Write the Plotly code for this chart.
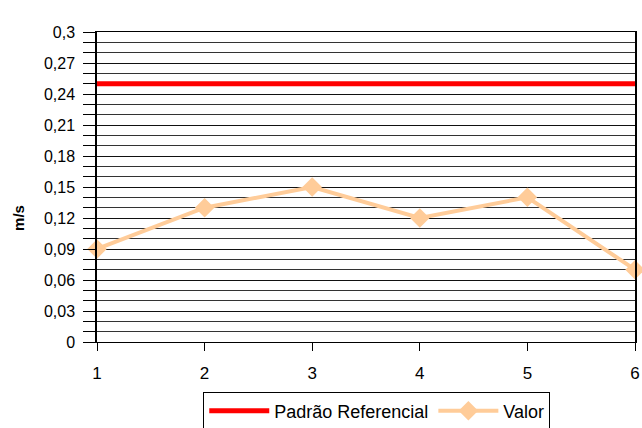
import plotly.graph_objects as go

_FONT = dict(family="Liberation Sans, Arial, sans-serif", size=16, color="#000000")
_CFG = {"displayModeBar": False, "responsive": False}

x_vals = [1, 2, 3, 4, 5, 6]
padrao = [0.25, 0.25, 0.25, 0.25, 0.25, 0.25]
valor = [0.09, 0.13, 0.15, 0.12, 0.14, 0.07]
y_ticks = [0, 0.03, 0.06, 0.09, 0.12, 0.15, 0.18, 0.21, 0.24, 0.27, 0.3]
y_labels = ["0", "0,03", "0,06", "0,09", "0,12", "0,15", "0,18", "0,21", "0,24", "0,27", "0,3"]

fig = go.Figure()
fig.add_trace(go.Scatter(
    x=x_vals, y=padrao, mode="lines", name="Padrão Referencial",
    line=dict(color="#FF0000", width=5), cliponaxis=False,
))
fig.add_trace(go.Scatter(
    x=x_vals, y=valor, mode="lines+markers", name="Valor",
    line=dict(color="#FFCC99", width=4), cliponaxis=False,
    marker=dict(symbol="diamond", size=15, color="#FFCC99"),
))

# title sits mostly above the page, as in the reference
fig.add_annotation(text="Velocidade", xref="paper", yref="paper", x=0.45, y=1.085,
                   yanchor="bottom", showarrow=False, font=dict(size=18, color="#444"))
fig.add_annotation(text="<b>m/s</b>", xref="paper", yref="paper", x=-0.147, y=0.40,
                   xanchor="center", yanchor="middle",
                   textangle=-90, showarrow=False, font=dict(size=15))

fig.update_xaxes(
    range=[1, 6], tickvals=x_vals, ticks="outside", ticklen=8, tickcolor="#000",
    showline=True, linecolor="#000", linewidth=1, mirror=True, showgrid=False,
    zeroline=False, tickfont=dict(size=17), ticklabeloverflow="allow",
    ticklabelstandoff=8, automargin=False,
)
fig.update_yaxes(
    range=[0, 0.3], tickvals=y_ticks, ticktext=y_labels, ticks="outside", ticklen=12,
    tickcolor="#000", showline=True, linecolor="#000", linewidth=1.5, mirror=True,
    showgrid=True, gridcolor="#111", gridwidth=1, zeroline=False,
    tickfont=dict(size=16), ticklabelstandoff=5, automargin=False,
    minor=dict(dtick=0.01, tick0=0, ticks="outside", ticklen=12, tickcolor="#000",
               showgrid=True, gridcolor="#333", gridwidth=1),
)
fig.update_layout(
    width=642, height=428, autosize=False, font=_FONT,
    plot_bgcolor="#ffffff", paper_bgcolor="#ffffff",
    margin=dict(l=97, r=7, t=32, b=86, autoexpand=False),
    showlegend=True,
    legend=dict(orientation="h", x=0.52, xanchor="center", y=-0.16, yanchor="top",
                bordercolor="#000", borderwidth=1, font=dict(size=18),
                itemwidth=60),
)
# drop the browser's default body margin so the figure sits at the page corner
fig.write_html("out.html", config=_CFG, post_script="document.body.style.margin='0';")
